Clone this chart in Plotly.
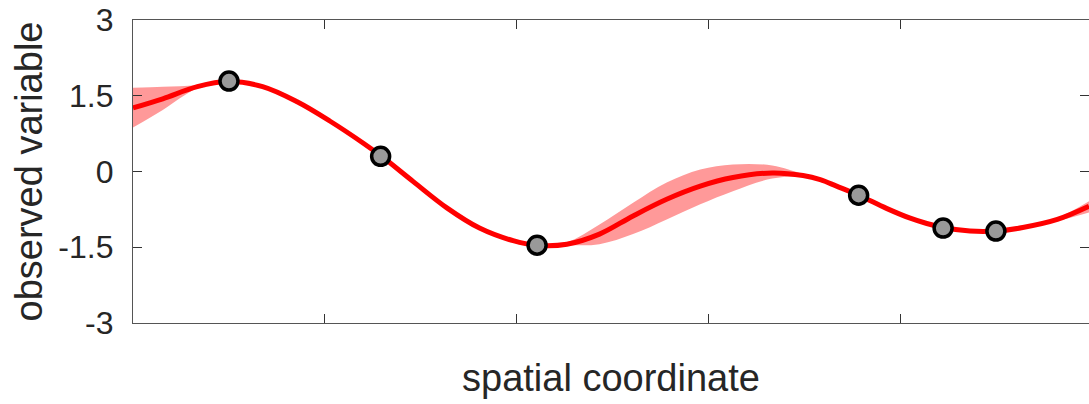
import plotly.graph_objects as go

# Posterior mean curve (control points)
curve_x = [0.000, 0.031, 0.067, 0.099, 0.135, 0.171, 0.205, 0.240, 0.259, 0.292,
           0.327, 0.361, 0.396, 0.420, 0.452, 0.486, 0.521, 0.556, 0.591, 0.625,
           0.666, 0.698, 0.716, 0.733, 0.756, 0.785, 0.809, 0.827, 0.844, 0.872,
           0.899, 0.927, 0.963, 0.996]
curve_mean = [1.26, 1.44, 1.68, 1.78, 1.68, 1.38, 1.00, 0.56, 0.30, -0.20,
              -0.72, -1.12, -1.37, -1.46, -1.44, -1.24, -0.88, -0.55, -0.29, -0.12,
              -0.03, -0.08, -0.16, -0.29, -0.47, -0.73, -0.92, -1.03, -1.11, -1.18,
              -1.18, -1.11, -0.95, -0.69]
band_lower = [0.87, 1.22, 1.65, 1.78, 1.68, 1.38, 1.00, 0.56, 0.30, -0.20,
              -0.72, -1.12, -1.37, -1.46, -1.46, -1.44, -1.24, -0.95, -0.65, -0.39,
              -0.14, -0.11, -0.16, -0.29, -0.47, -0.73, -0.92, -1.03, -1.11, -1.18,
              -1.18, -1.12, -0.98, -0.81]
band_upper = [1.66, 1.68, 1.71, 1.78, 1.68, 1.38, 1.00, 0.56, 0.30, -0.20,
              -0.72, -1.12, -1.37, -1.46, -1.40, -1.05, -0.62, -0.22, 0.04, 0.14,
              0.12, -0.05, -0.16, -0.29, -0.47, -0.73, -0.92, -1.03, -1.11, -1.18,
              -1.18, -1.10, -0.92, -0.59]

# Observations
obs_x = [0.100, 0.258, 0.421, 0.756, 0.844, 0.899]
obs_y = [1.79, 0.30, -1.46, -0.47, -1.12, -1.18]

x_ticks = [0.2, 0.4, 0.6, 0.8]
y_ticks = [-3, -1.5, 0, 1.5, 3]
y_tick_text = ["-3", "-1.5", "0", "1.5", "3"]

FONT = "Liberation Sans, Arial, Helvetica, sans-serif"
TXT = "#262626"

fig = go.Figure()
fig.add_trace(go.Scatter(x=curve_x, y=band_lower, mode="lines",
                         line=dict(width=0, shape="spline", color="rgba(0,0,0,0)"),
                         showlegend=False, hoverinfo="skip"))
fig.add_trace(go.Scatter(x=curve_x, y=band_upper, mode="lines", fill="tonexty",
                         fillcolor="rgba(255,0,0,0.4)",
                         line=dict(width=0, shape="spline", color="rgba(0,0,0,0)"),
                         showlegend=False, hoverinfo="skip"))
fig.add_trace(go.Scatter(x=curve_x, y=curve_mean, mode="lines",
                         line=dict(width=5, shape="spline", color="#ff0000"),
                         showlegend=False))
fig.add_trace(go.Scatter(x=obs_x, y=obs_y, mode="markers",
                         marker=dict(size=18, color="#999999",
                                     line=dict(color="#000000", width=3.5)),
                         showlegend=False))

fig.update_layout(
    width=1089, height=404,
    margin=dict(l=133, r=0, t=20, b=81),
    paper_bgcolor="white", plot_bgcolor="white",
    font=dict(family=FONT, color=TXT),
    xaxis=dict(range=[0, 0.996], tickvals=x_ticks, showticklabels=False,
               showgrid=False, zeroline=False, showline=True, linecolor="#555555",
               linewidth=1.2, mirror="ticks", ticks="inside", ticklen=9,
               tickcolor="#333333", tickwidth=1.2, automargin=False),
    yaxis=dict(range=[-3, 3], tickvals=y_ticks, ticktext=y_tick_text,
               showgrid=False, zeroline=False, showline=True, linecolor="#555555",
               linewidth=1.2, mirror="ticks", ticks="inside", ticklen=9,
               tickcolor="#333333", tickwidth=1.2,
               tickfont=dict(size=32, family=FONT, color=TXT),
               ticklabelstandoff=12, ticklabeloverflow="allow", automargin=False),
    annotations=[
        dict(text="spatial coordinate", xref="paper", yref="paper", x=0.5, y=0,
             xanchor="center", yanchor="top", yshift=-32, showarrow=False,
             font=dict(size=38, family=FONT, color=TXT)),
        dict(text="observed variable", xref="paper", yref="paper", x=0, y=0.5,
             xanchor="center", yanchor="middle", xshift=-105, textangle=-90,
             showarrow=False, font=dict(size=38, family=FONT, color=TXT)),
    ],
)

fig.write_html("out.html", config={"displayModeBar": False},
               post_script="document.body.style.margin='0px';")
